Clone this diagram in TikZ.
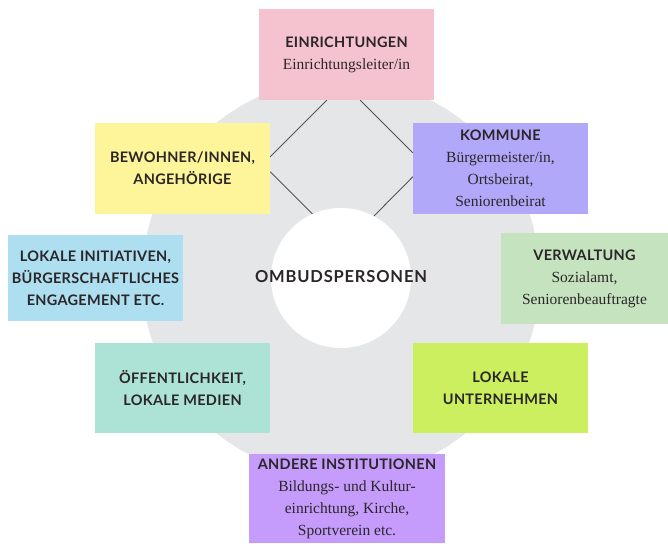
\documentclass[tikz,border=0pt]{standalone}
\usepackage{fontspec}
\setmainfont{Liberation Serif}
\newfontfamily\headfont{Lato}[UprightFont=* Bold]
\usetikzlibrary{calc}
\definecolor{cpink}{HTML}{F5C2CF}
\definecolor{cyellow}{HTML}{FEF59A}
\definecolor{cviolet}{HTML}{B1A8FA}
\definecolor{cblue}{HTML}{ADDFF1}
\definecolor{cgreen}{HTML}{C5E3BF}
\definecolor{cmint}{HTML}{ADE3D6}
\definecolor{clime}{HTML}{CBEF5F}
\definecolor{cpurple}{HTML}{C59BFB}
\definecolor{cgray}{HTML}{E5E6E8}
\definecolor{ctext}{HTML}{2B2628}
\definecolor{cline}{HTML}{555555}
\newcommand{\hd}[1]{{\headfont\fontsize{14.5}{23}\selectfont\addfontfeatures{LetterSpace=2}#1}}
\tikzset{
  box/.style={rectangle, inner sep=0pt, align=center, text=ctext,
    font=\fontsize{15.5}{22}\selectfont},
  conn/.style={draw=cline, line width=0.9pt}
}
\begin{document}
\begin{tikzpicture}[x=1pt,y=-1pt]
\useasboundingbox (0,0) rectangle (668,543);
\fill[cgray] (341,278) circle[radius=199];
\node[circle, fill=white, minimum size=140pt, inner sep=0pt] (omb) at (341,278) {};
\node[text=ctext, font={\headfont\fontsize{16.5}{18}\selectfont\addfontfeatures{LetterSpace=5}}] (ombt) at (341,277) {OMBUDSPERSONEN};

\node[box, fill=cpink, minimum width=175pt, minimum height=91pt] (ein) at (346.5,54.5)
  {\hd{EINRICHTUNGEN}\\Einrichtungsleiter/in};
\node[box, fill=cyellow, minimum width=175pt, minimum height=91pt] (bew) at (182.5,168.5)
  {\hd{BEWOHNER/INNEN,}\\\hd{ANGEHÖRIGE}};
\node[box, fill=cviolet, minimum width=175pt, minimum height=91pt] (kom) at (500.5,168.5)
  {\hd{KOMMUNE}\\Bürgermeister/in,\\Ortsbeirat,\\Seniorenbeirat};
\node[box, fill=cblue, minimum width=175pt, minimum height=86pt] (lok) at (95.5,278)
  {\hd{LOKALE INITIATIVEN,}\\\hd{BÜRGERSCHAFTLICHES}\\\hd{ENGAGEMENT ETC.}};
\node[box, fill=cgreen, minimum width=167pt, minimum height=91pt] (ver) at (584.5,278.5)
  {\hd{VERWALTUNG}\\Sozialamt,\\Seniorenbeauftragte};
\node[box, fill=cmint, minimum width=175pt, minimum height=90pt] (oef) at (182.5,388)
  {\hd{ÖFFENTLICHKEIT,}\\\hd{LOKALE MEDIEN}};
\node[box, fill=clime, minimum width=175pt, minimum height=90pt] (unt) at (500.5,388)
  {\hd{LOKALE}\\\hd{UNTERNEHMEN}};
\node[box, fill=cpurple, minimum width=196pt, minimum height=89pt] (and) at (347,498.5)
  {\hd{ANDERE INSTITUTIONEN}\\Bildungs- und Kultur-\\einrichtung, Kirche,\\Sportverein etc.};

\draw[conn] ([xshift=68pt]ein.south west) -- ([yshift=-34pt]bew.north east);
\draw[conn] ([xshift=-74pt]ein.south east) -- ([yshift=-30pt]kom.north west);
\draw[conn] ([yshift=-49pt]bew.north east) -- (omb.114);
\draw[conn] ([yshift=-54pt]kom.north west) -- (omb.62);
\end{tikzpicture}
\end{document}
